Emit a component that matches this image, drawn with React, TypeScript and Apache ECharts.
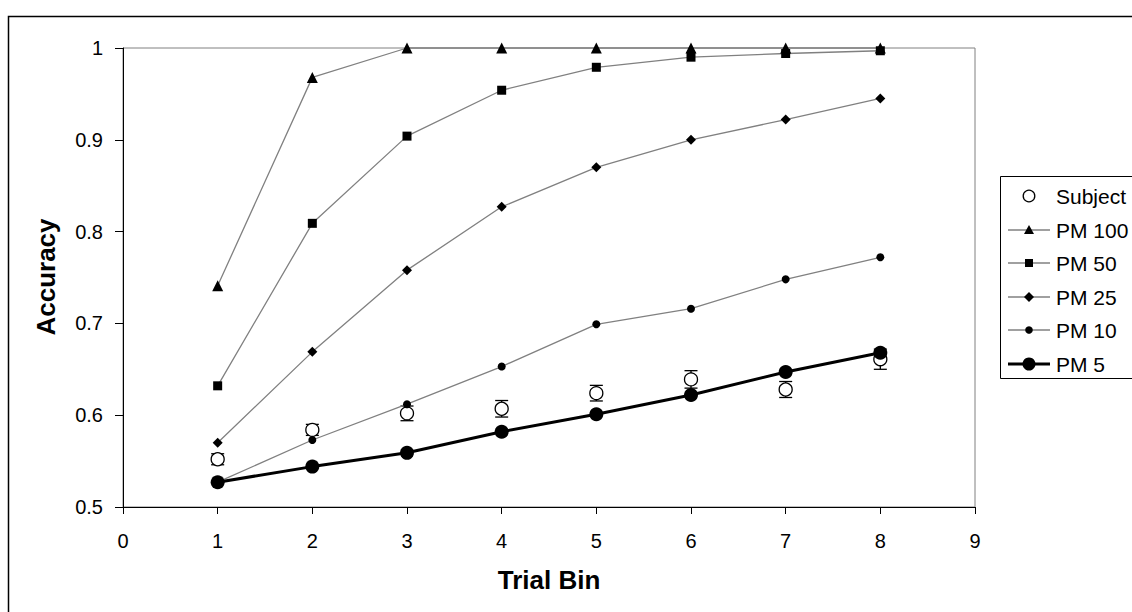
import React, { useEffect, useRef } from "react";
import * as echarts from "echarts";

const trialBins = [1, 2, 3, 4, 5, 6, 7, 8];
const subject = [0.552, 0.584, 0.602, 0.607, 0.624, 0.639, 0.628, 0.661];
const subjectErr = [0.006, 0.006, 0.008, 0.009, 0.0085, 0.0095, 0.0087, 0.011];
const pm100 = [0.741, 0.968, 1, 1, 1, 1, 1, 1];
const pm50 = [0.632, 0.809, 0.904, 0.954, 0.979, 0.99, 0.994, 0.997];
const pm25 = [0.57, 0.669, 0.758, 0.827, 0.87, 0.9, 0.922, 0.945];
const pm10 = [0.527, 0.573, 0.612, 0.653, 0.699, 0.716, 0.748, 0.772];
const pm5 = [0.527, 0.544, 0.559, 0.582, 0.601, 0.622, 0.647, 0.668];
const legendNames = ["Subject", "PM 100", "PM 50", "PM 25", "PM 10", "PM 5"];

const FONT = "'Liberation Sans', Arial, sans-serif";

function pairs(vals: number[]) {
  return trialBins.map((x, i) => [x, vals[i]]);
}

export default function App() {
  const ref = useRef<HTMLDivElement>(null);
  useEffect(() => {
    if (!ref.current) return;
    const chart = echarts.init(ref.current, undefined, { renderer: "svg" });

    const gray = "#808080";
    const lineSeries = (name: string, vals: number[], symbol: string, size: number, color: string, width: number) => ({
      name,
      type: "line",
      data: pairs(vals),
      symbol,
      symbolSize: size,
      clip: false,
      lineStyle: { color, width },
      itemStyle: { color: "#000", borderWidth: 0 },
      z: 3,
    });

    // legend graphic
    const lx0 = 1008, lx1 = 1050, lmx = 1029, ltx = 1056;
    const rowY = [196, 230, 263, 297, 330, 364];
    const legendEls: any[] = [
      { type: "rect", shape: { x: 1000.5, y: 176.5, width: 300, height: 202 }, style: { fill: "#fff", stroke: "#000", lineWidth: 1 }, z: 10 },
    ];
    const rowMarker = (i: number) => {
      const y = rowY[i];
      switch (i) {
        case 0:
          return { type: "circle", shape: { cx: lmx, cy: y, r: 5.8 }, style: { fill: "#fff", stroke: "#000", lineWidth: 1.3 } };
        case 1:
          return { type: "polygon", shape: { points: [[lmx, y - 5], [lmx - 5, y + 4], [lmx + 5, y + 4]] }, style: { fill: "#000" } };
        case 2:
          return { type: "rect", shape: { x: lmx - 4, y: y - 4, width: 8, height: 8 }, style: { fill: "#000" } };
        case 3:
          return { type: "polygon", shape: { points: [[lmx, y - 5], [lmx + 5, y], [lmx, y + 5], [lmx - 5, y]] }, style: { fill: "#000" } };
        case 4:
          return { type: "circle", shape: { cx: lmx, cy: y, r: 3.8 }, style: { fill: "#000" } };
        default:
          return { type: "circle", shape: { cx: lmx, cy: y, r: 6.5 }, style: { fill: "#000" } };
      }
    };
    legendNames.forEach((name, i) => {
      const y = rowY[i];
      if (i > 0) {
        legendEls.push({
          type: "line",
          shape: { x1: lx0, y1: y, x2: lx1, y2: y },
          style: { stroke: i === 5 ? "#000" : gray, lineWidth: i === 5 ? 3 : 1.3 },
          z: 11,
        });
      }
      legendEls.push({ ...rowMarker(i), z: 12 });
      legendEls.push({
        type: "text",
        x: ltx,
        y,
        style: { text: name, fill: "#000", font: `21px ${FONT}`, textAlign: "left", textVerticalAlign: "middle" },
        z: 12,
      });
    });

    const option: any = {
      animation: false,
      backgroundColor: "#fff",
      grid: { left: 123, top: 48, width: 852, height: 459, show: true, borderColor: gray, borderWidth: 1, backgroundColor: "transparent" },
      xAxis: {
        type: "value",
        min: 0,
        max: 9,
        interval: 1,
        axisLine: { show: true, onZero: false, lineStyle: { color: "#000", width: 1 } },
        axisTick: { show: true, length: 7, inside: false, lineStyle: { color: "#000" } },
        axisLabel: { color: "#000", fontSize: 20, fontFamily: FONT, margin: 24 },
        splitLine: { show: false },
      },
      yAxis: {
        type: "value",
        min: 0.5,
        max: 1,
        interval: 0.1,
        axisLine: { show: true, onZero: false, lineStyle: { color: "#000", width: 1 } },
        axisTick: { show: true, length: 8, inside: false, lineStyle: { color: "#000" } },
        axisLabel: { color: "#000", fontSize: 20, fontFamily: FONT, margin: 20 },
        splitLine: { show: false },
      },
      graphic: [
        { type: "rect", shape: { x: 8.5, y: 16.5, width: 1300, height: 800 }, style: { fill: "none", stroke: "#000", lineWidth: 1.5 }, z: -1, silent: true },
        {
          type: "text",
          x: 46,
          y: 277,
          rotation: Math.PI / 2,
          style: { text: "Accuracy", fill: "#000", font: `bold 26px ${FONT}`, textAlign: "center", textVerticalAlign: "middle" },
        },
        {
          type: "text",
          x: 549,
          y: 580,
          style: { text: "Trial Bin", fill: "#000", font: `bold 26px ${FONT}`, textAlign: "center", textVerticalAlign: "middle" },
        },
        ...legendEls,
      ],
      series: [
        {
          name: "Subject error",
          type: "custom",
          data: trialBins.map((x, i) => [x, subject[i] - subjectErr[i], subject[i] + subjectErr[i]]),
          renderItem: (params: any, api: any) => {
            const lo = api.coord([api.value(0), api.value(1)]);
            const hi = api.coord([api.value(0), api.value(2)]);
            const w = 6.5;
            const st = { stroke: "#000", lineWidth: 1.3 };
            return {
              type: "group",
              children: [
                { type: "line", shape: { x1: lo[0], y1: lo[1], x2: hi[0], y2: hi[1] }, style: st },
                { type: "line", shape: { x1: lo[0] - w, y1: lo[1], x2: lo[0] + w, y2: lo[1] }, style: st },
                { type: "line", shape: { x1: hi[0] - w, y1: hi[1], x2: hi[0] + w, y2: hi[1] }, style: st },
              ],
            };
          },
          z: 1,
        },
        {
          name: "Subject",
          type: "scatter",
          data: pairs(subject),
          symbol: "circle",
          symbolSize: 13,
          itemStyle: { color: "#fff", borderColor: "#000", borderWidth: 1.3, opacity: 1 },
          z: 2,
        },
        lineSeries("PM 100", pm100, "triangle", 11, gray, 1.3),
        lineSeries("PM 50", pm50, "rect", 9, gray, 1.3),
        lineSeries("PM 25", pm25, "diamond", 10, gray, 1.3),
        lineSeries("PM 10", pm10, "circle", 8, gray, 1.3),
        { ...lineSeries("PM 5", pm5, "circle", 14, "#000", 3), z: 4 },
      ],
    };
    chart.setOption(option);
    return () => chart.dispose();
  }, []);
  return <div ref={ref} style={{ position: "fixed", left: 0, top: 0, width: 1132, height: 612 }} />;
}
